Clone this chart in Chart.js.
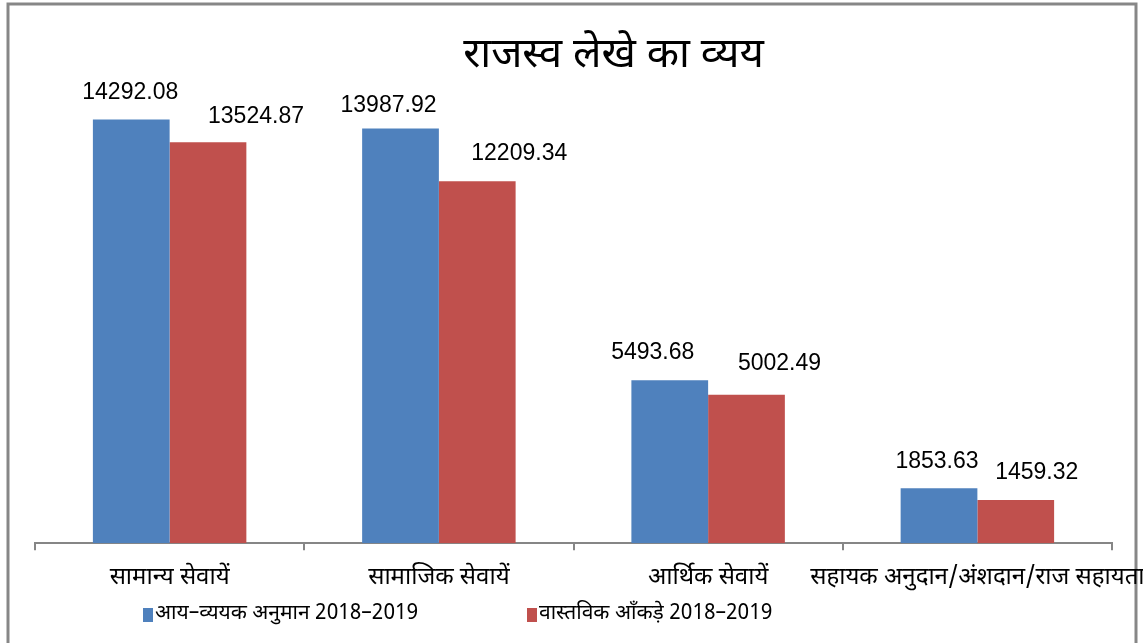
<!DOCTYPE html>
<html>
<head>
<meta charset="utf-8">
<script src="https://cdn.jsdelivr.net/npm/chart.js@4.4.0/dist/chart.umd.min.js"></script>
<style>
  html, body { margin: 0; padding: 0; background: #fff; }
  #wrap { width: 1143px; height: 643px; }
</style>
</head>
<body>
<div id="wrap"><canvas id="chart" width="1143" height="643"></canvas></div>
<script>
const categories = ['सामान्य सेवायें', 'सामाजिक सेवायें', 'आर्थिक सेवायें', 'सहायक अनुदान/अंशदान/राज सहायता'];
const seriesNames = ['आय–व्ययक अनुमान 2018–2019', 'वास्तविक आँकड़े 2018–2019'];
const budgetValues = [14292.08, 13987.92, 5493.68, 1853.63];
const actualValues = [13524.87, 12209.34, 5002.49, 1459.32];

// labels were nudged by hand in the original, keep that
const labelNudgeX = [[-1, -12, -17, -2], [48, 42, 33, 21]];
const labelNudgeY = [[-27, -23, -28, -27], [-25, -27, -31, -27]];
const legendX = [143, 527];

const devFont = "'Noto Sans Devanagari', 'Noto Sans', 'Lohit Devanagari', 'FreeSans', sans-serif";

const framePlugin = {
    id: 'frame',
    beforeDraw(chart) {
        const ctx = chart.ctx;
        ctx.save();
        ctx.fillStyle = '#fff';
        ctx.fillRect(0, 0, chart.width, chart.height);
        ctx.strokeStyle = '#878787';
        ctx.lineWidth = 3;
        ctx.strokeRect(8, 4, 1128, 700);
        ctx.restore();
    }
};

const shiftPlugin = {
    id: 'shift',
    afterLayout(chart) {
        const t = chart.titleBlock;
        if (t) { t.left += 40; t.right += 40; }
    }
};

const valueLabels = {
    id: 'valueLabels',
    afterDatasetsDraw(chart) {
        const ctx = chart.ctx;
        ctx.save();
        ctx.font = "23px 'Liberation Sans', Arial, sans-serif";
        ctx.fillStyle = '#000';
        ctx.textAlign = 'center';
        ctx.textBaseline = 'middle';
        chart.data.datasets.forEach((ds, i) => {
            chart.getDatasetMeta(i).data.forEach((bar, j) => {
                ctx.fillText(ds.data[j].toFixed(2), bar.x + labelNudgeX[i][j], bar.y + labelNudgeY[i][j]);
            });
        });
        ctx.restore();
    }
};

const legendPlugin = {
    id: 'customLegend',
    afterDraw(chart) {
        const ctx = chart.ctx;
        ctx.save();
        ctx.font = '21px ' + devFont;
        ctx.textBaseline = 'middle';
        ctx.textAlign = 'left';
        chart.data.datasets.forEach((ds, i) => {
            const x = legendX[i], y = 615;
            ctx.fillStyle = ds.backgroundColor;
            ctx.fillRect(x, y - 7, 10, 14);
            ctx.fillStyle = '#000';
            ctx.fillText(ds.label, x + 12, y);
        });
        ctx.restore();
    }
};

new Chart(document.getElementById('chart').getContext('2d'), {
    type: 'bar',
    data: {
        labels: categories,
        datasets: [{
            label: seriesNames[0],
            data: budgetValues,
            backgroundColor: '#4F81BD',
            borderWidth: 0
        }, {
            label: seriesNames[1],
            data: actualValues,
            backgroundColor: '#C0504D',
            borderWidth: 0
        }]
    },
    options: {
        responsive: false,
        animation: false,
        layout: {
            padding: { left: 35, right: 31, top: 0, bottom: 34 }
        },
        plugins: {
            legend: { display: false },
            tooltip: { enabled: false },
            title: {
                display: true,
                text: 'राजस्व लेखे का व्यय',
                color: '#000',
                font: { family: devFont, size: 42, weight: 'normal', lineHeight: 1.2 },
                padding: { top: 34, bottom: 14 }
            }
        },
        datasets: {
            bar: { categoryPercentage: 0.57, barPercentage: 1.0 }
        },
        scales: {
            x: {
                grid: {
                    offset: true,
                    drawOnChartArea: false,
                    drawTicks: true,
                    tickLength: 7,
                    color: '#868686',
                    lineWidth: 2
                },
                border: { display: true, color: '#868686', width: 2 },
                ticks: {
                    color: '#000',
                    font: { family: devFont, size: 24 },
                    padding: 15,
                    maxRotation: 0,
                    minRotation: 0,
                    autoSkip: false
                },
                afterFit(scale) {
                    scale.paddingLeft = 0;
                    scale.paddingRight = 0;
                }
            },
            y: {
                display: false,
                min: 0,
                max: 15000
            }
        }
    },
    plugins: [framePlugin, shiftPlugin, valueLabels, legendPlugin]
});
</script>
</body>
</html>
